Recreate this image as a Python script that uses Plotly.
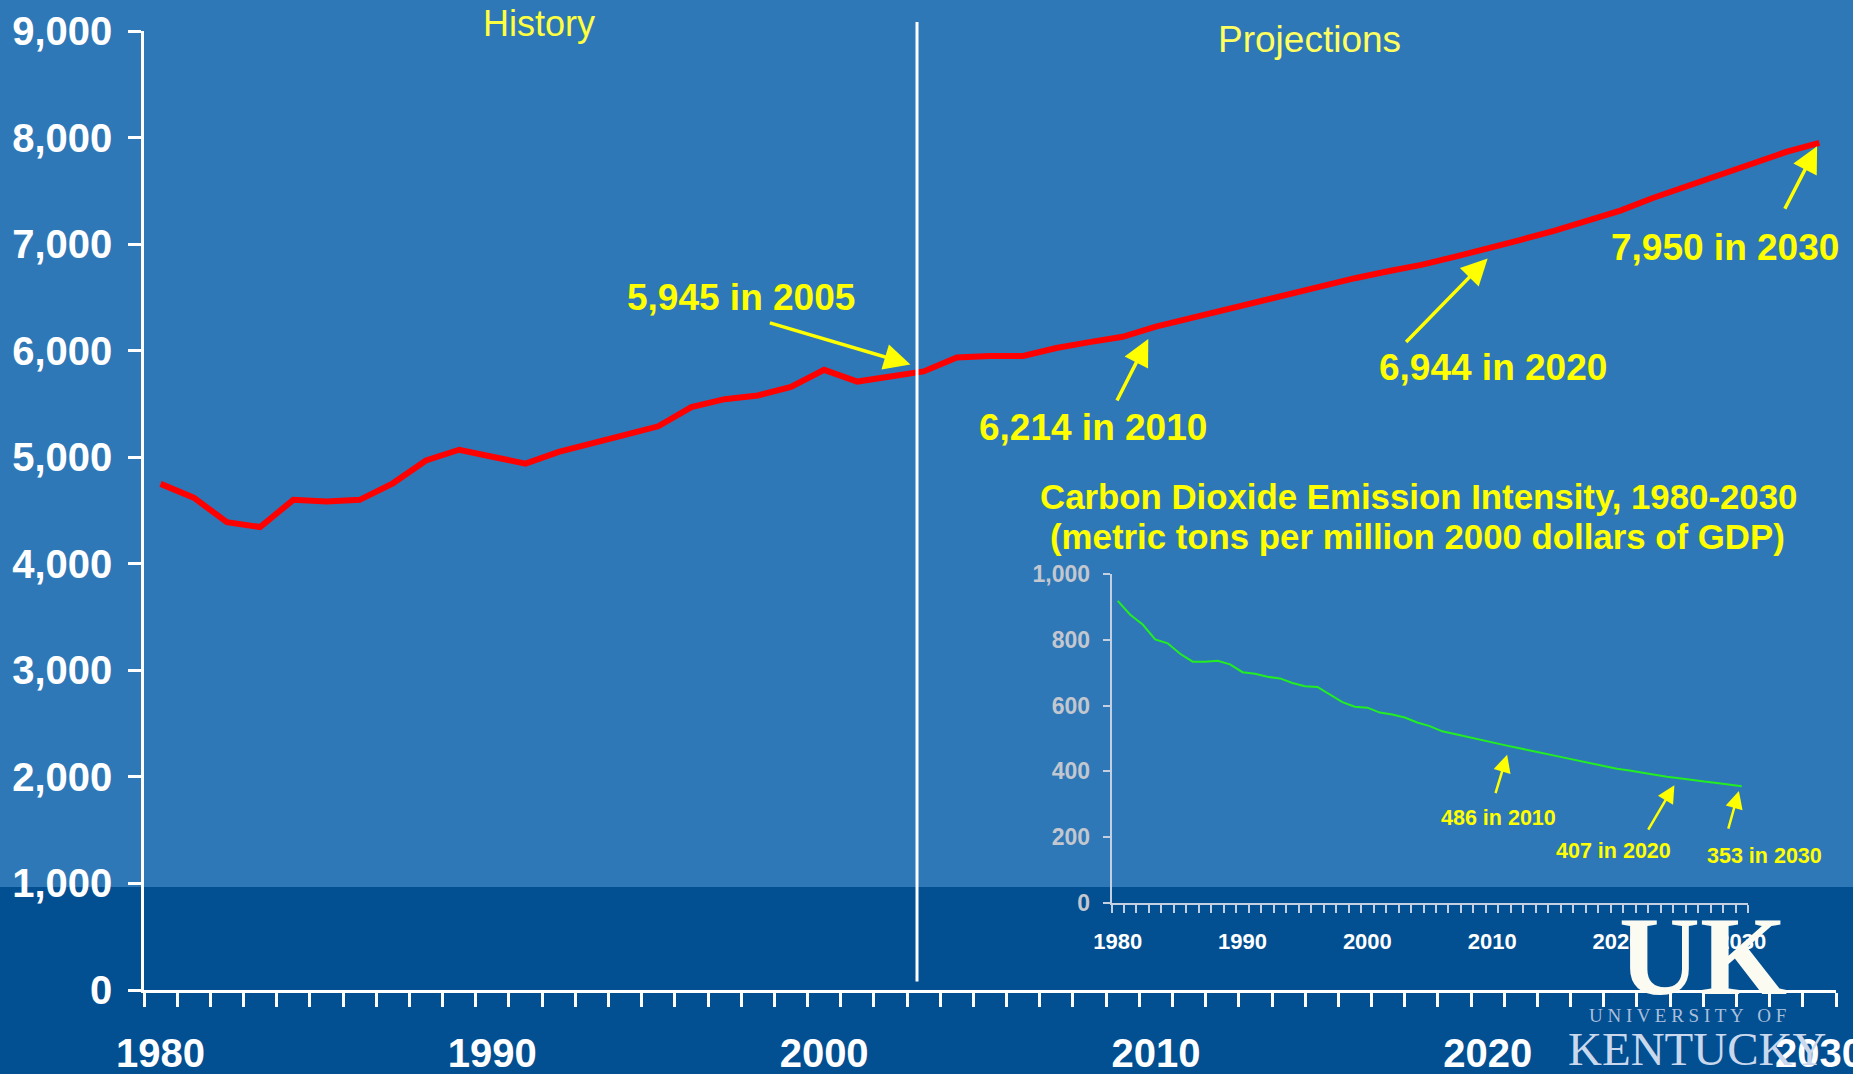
import plotly.graph_objects as go

# ---------------- data ----------------
years = list(range(1980, 2031))
emissions = [4750, 4620, 4390, 4345, 4600, 4585, 4600, 4755, 4970, 5070,
             5005, 4940, 5050, 5135, 5210, 5290, 5470, 5545, 5580, 5660,
             5820, 5710, 5755, 5805, 5935, 5950, 5950, 6025, 6080, 6130,
             6225, 6300, 6385, 6460, 6530, 6605, 6680, 6745, 6805, 6880,
             6955, 7040, 7125, 7215, 7315, 7435, 7540, 7645, 7760, 7865,
             7950]
intensity = [919, 877, 847, 802, 790, 758, 734, 734, 737, 726,
             702, 697, 688, 683, 669, 659, 657, 633, 611, 597,
             594, 579, 573, 564, 549, 538, 522, 514, 505, 496,
             487, 480, 472, 465, 456, 448, 440, 433, 423, 416,
             408, 403, 396, 391, 384, 379, 373, 369, 365, 360,
             355]
main_yticks = [0, 1000, 2000, 3000, 4000, 5000, 6000, 7000, 8000, 9000]
year_labels = [1980, 1990, 2000, 2010, 2020, 2030]
inset_yticks = [0, 200, 400, 600, 800, 1000]

main_notes = ["5,945 in 2005", "6,214 in 2010", "6,944 in 2020", "7,950 in 2030"]
inset_notes = ["486 in 2010", "407 in 2020", "353 in 2030"]
inset_title = ["Carbon Dioxide Emission Intensity, 1980-2030",
               "(metric tons per million 2000 dollars of GDP)"]

# ---------------- layout helpers (pixel -> paper) ----------------
W, H = 1853, 1074
L, R, T, B = 144, 17, 31, 84
PW, PH = W - L - R, H - T - B


def px(x):
    return (x - L) / PW


def py(y):
    return (H - B - y) / PH


BG_TOP = "#2f78b7"
BG_BOT = "#024f92"
YEL = "#ffff00"
FONT = "Liberation Sans"

fig = go.Figure()

fig.add_trace(go.Scatter(x=years, y=emissions, mode="lines",
                         line=dict(color="#ff0000", width=6),
                         xaxis="x", yaxis="y", hoverinfo="skip"))
fig.add_trace(go.Scatter(x=years, y=intensity, mode="lines",
                         line=dict(color="#22ee22", width=2),
                         xaxis="x2", yaxis="y2", hoverinfo="skip"))

axis_font = dict(family=FONT, size=40, color="white", weight="bold")

fig.update_layout(
    width=W, height=H,
    margin=dict(l=L, r=R, t=T, b=B, pad=0, autoexpand=False),
    paper_bgcolor=BG_TOP, plot_bgcolor="rgba(0,0,0,0)",
    showlegend=False,
    xaxis=dict(range=[1979.5, 2030.5], domain=[0, 1], automargin=False,
               tickvals=year_labels, ticktext=[str(v) for v in year_labels],
               ticks="", showgrid=False, zeroline=False,
               showline=True, linecolor="white", linewidth=3,
               tickfont=axis_font, ticklabelstandoff=26,
               ticklabeloverflow="allow",
               minor=dict(tick0=1979.5, dtick=1, ticks="outside", ticklen=14,
                          tickwidth=2.5, tickcolor="white", showgrid=False)),
    yaxis=dict(range=[0, 9000], domain=[0, 1], automargin=False,
               tickvals=main_yticks, tickformat=",",
               ticks="outside", ticklen=13, tickwidth=2.5, tickcolor="white",
               showgrid=False, zeroline=False,
               showline=True, linecolor="white", linewidth=2.5,
               tickfont=axis_font, ticklabelstandoff=8,
               ticklabeloverflow="allow"),
    xaxis2=dict(range=[1979.5, 2030.5], anchor="y2", automargin=False,
                domain=[px(1111.5), px(1748)],
                tickvals=year_labels, ticktext=[str(v) for v in year_labels],
                ticks="", showgrid=False, zeroline=False,
                showline=True, linecolor="#c4d0e2", linewidth=2,
                tickfont=dict(family=FONT, size=22, color="white", weight="bold"),
                ticklabelstandoff=18, ticklabeloverflow="allow",
                minor=dict(tick0=1979.5, dtick=1, ticks="outside", ticklen=8,
                           tickwidth=1.5, tickcolor="#c4d0e2", showgrid=False)),
    yaxis2=dict(range=[0, 1000], anchor="x2", automargin=False,
                domain=[py(902.8), py(574.3)],
                tickvals=inset_yticks, tickformat=",",
                ticks="outside", ticklen=7, tickwidth=1.5, tickcolor="#c4d0e2",
                showgrid=False, zeroline=False,
                showline=True, linecolor="#c4d0e2", linewidth=1.5,
                tickfont=dict(family=FONT, size=23, color="#c3c7cf", weight="bold"),
                ticklabelstandoff=8, ticklabeloverflow="allow"),
)

# background bottom band and history/projection divider
fig.add_shape(type="rect", xref="paper", yref="paper",
              x0=px(-20), x1=px(W + 20), y0=py(887), y1=py(H + 20),
              fillcolor=BG_BOT, line_width=0, layer="below")
fig.add_shape(type="line", xref="x", yref="paper",
              x0=2002.8, x1=2002.8, y0=py(981.5), y1=py(22),
              line=dict(color="white", width=3), layer="above")

ann = []


def text(s, x, y, size, color=YEL, weight="bold", family=FONT, xanchor="center"):
    ann.append(dict(text=s, x=px(x), y=py(y), xref="paper", yref="paper",
                    showarrow=False, xanchor=xanchor, yanchor="middle",
                    font=dict(family=family, size=size, color=color, weight=weight)))


def arrow(xr, yr, hx, hy, dx, dy, width, size):
    ann.append(dict(text="", x=hx, y=hy, xref=xr, yref=yr, ax=dx, ay=dy,
                    axref="pixel", ayref="pixel", showarrow=True,
                    arrowhead=2, arrowsize=size, arrowwidth=width, arrowcolor=YEL))


text("History", 538.6, 23, 36, color="#ffff40", weight="normal")
text("Projections", 1309, 40, 37, color="#ffff60", weight="normal")

main_pos = [(740.6, 297), (1093, 427), (1493, 367), (1725, 248)]
for s, (x, y) in zip(main_notes, main_pos):
    text(s, x, y, 37)

arrow("x", "y", 2002.6, 5871, -142, -42, 3.5, 1.5)
arrow("x", "y", 2009.77, 6109, -32, 63, 3.5, 1.5)
arrow("x", "y", 2020.0, 6865, -83, 85, 3.5, 1.5)
arrow("x", "y", 2029.93, 7919, -33, 64, 3.5, 1.5)

text(inset_title[0], 1418, 497, 34.8)
text(inset_title[1], 1417, 536, 34.8)

inset_pos = [(1498, 818), (1613, 851), (1764, 856)]
for s, (x, y) in zip(inset_notes, inset_pos):
    text(s, x, y, 21.5)

arrow("x2", "y2", 2011.2, 451, -12, 40, 2.5, 1.4)
arrow("x2", "y2", 2024.6, 358, -27, 46, 2.5, 1.4)
arrow("x2", "y2", 2029.77, 340, -11, 39, 2.5, 1.4)

# University of Kentucky logo
text("UK", 1703, 956, 112, color="#fbfbf2", family="Liberation Serif")
text("U N I V E R S I T Y  &nbsp;O F", 1687, 1015, 19, color="#a9bfdc",
     family="Liberation Serif", weight="normal")
text("KENTUCKY", 1566, 1049, 47, color="#c9d8ec", family="Liberation Serif",
     weight="normal", xanchor="left")

fig.update_layout(annotations=ann)

fig.write_html("out.html", config=dict(displayModeBar=False),
               post_script="document.body.style.margin='0';document.body.style.overflow='hidden';")
